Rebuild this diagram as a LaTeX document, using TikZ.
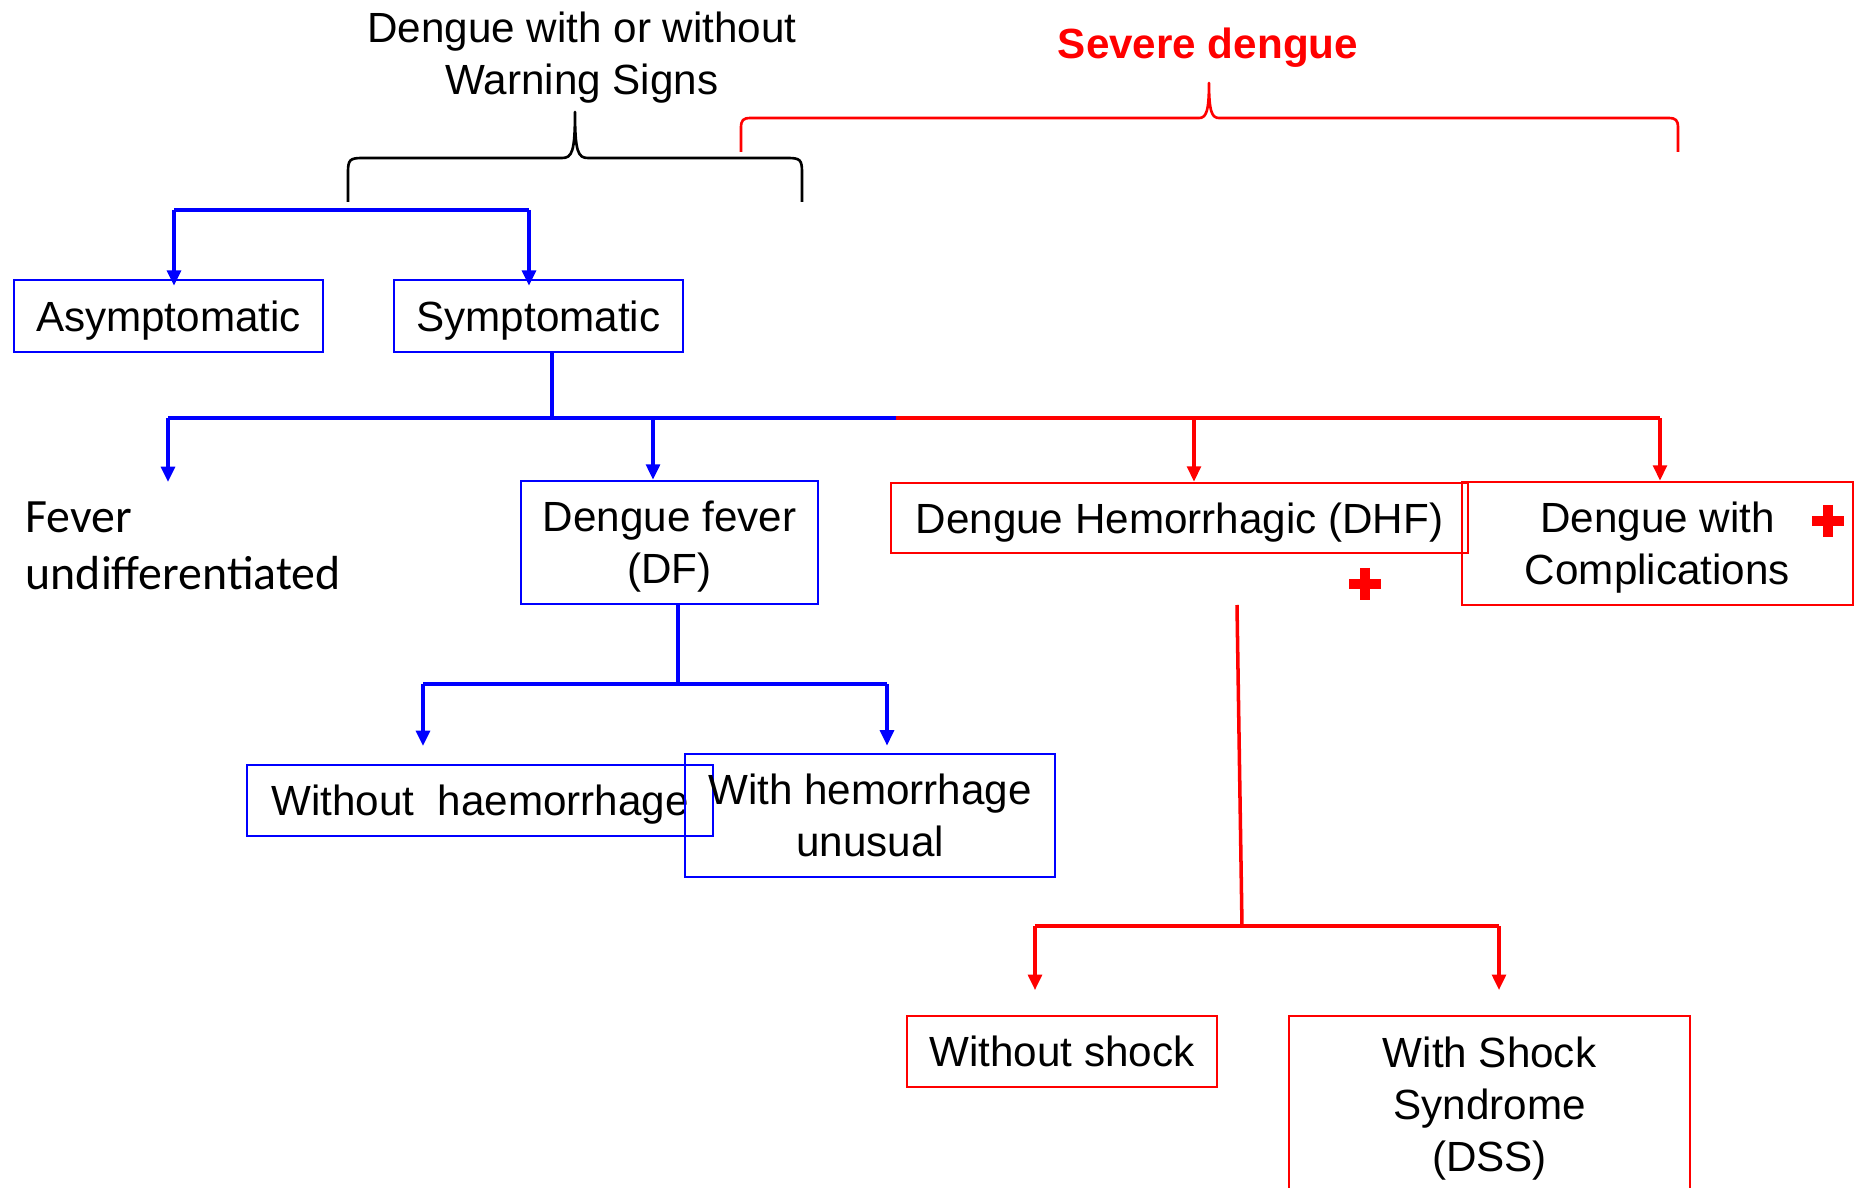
\documentclass[tikz,border=0pt]{standalone}
\usepackage{fontspec}
\setmainfont{Liberation Sans}
\newfontfamily\calibrifont{Carlito}
\usetikzlibrary{arrows.meta, positioning, calc}

\begin{document}
\begin{tikzpicture}[
  x=0.01cm, y=-0.01cm,
  box/.style = {draw, line width=0.7pt, inner sep=0pt, align=center, text depth=0pt},
  bluebox/.style = {box, draw=blue},
  redbox/.style = {box, draw=red},
  bluelink/.style = {blue, line width=1.2pt},
  redlink/.style = {red, line width=1pt},
  headed/.style = {-{Triangle[length=4.4pt,width=3.9pt]}},
  brace/.style = {line width=0.75pt, line join=round},
  plusmark/.style = {red, line width=2.8pt},
  every node/.style = {font=\fontsize{12}{14.8}\selectfont}
]
\useasboundingbox (0,0) rectangle (1856,1188);

% Headings and braces
\node[align=center] (mildtitle) at (582,58) {Dengue with or without\\Warning Signs};
\node[red, font=\bfseries\fontsize{12}{14.8}\selectfont] (severe) at (1208,48) {Severe dengue};

\draw[brace] (348,202) -- (348,172) .. controls (348,160) and (350,158) .. (362,158)
  -- (562,158) .. controls (572,158) and (575,152) .. (575,112)
  .. controls (575,152) and (578,158) .. (588,158) -- (788,158)
  .. controls (800,158) and (802,160) .. (802,172) -- (802,202);
\draw[brace, red] (741,152) -- (741,128) .. controls (741,120) and (743,118) .. (751,118)
  -- (1199,118) .. controls (1206,118) and (1209,112) .. (1209,83)
  .. controls (1209,112) and (1212,118) .. (1219,118) -- (1668,118)
  .. controls (1676,118) and (1678,120) .. (1678,128) -- (1678,152);

% First level
\node[bluebox, minimum width=3.09cm, minimum height=0.72cm] (asym) at (168.5,316) {Asymptomatic};
\node[bluebox, minimum width=2.89cm, minimum height=0.72cm] (sym) at (538.5,316) {Symptomatic};

\coordinate (topL) at (174,210);
\coordinate (topR) at (529,210);
\draw[bluelink] (topL) -- (topR);
\draw[bluelink, headed] (topL) -- ([yshift=-2pt]topL |- asym.north);
\draw[bluelink, headed] (topR) -- ([yshift=-2pt]topR |- sym.north);

% Second level
\node[anchor=west, inner sep=0pt, align=left, font=\calibrifont\fontsize{13.6}{16.2}\selectfont]
  (fever) at (25,546) {Fever\\undifferentiated};
\node[bluebox, minimum width=2.97cm, minimum height=1.23cm] (df) at (669.5,542.5) {Dengue fever\\(DF)};
\node[redbox, minimum width=5.77cm, minimum height=0.70cm] (dhf) at (1179.5,518) {Dengue Hemorrhagic (DHF)};
\node[redbox, minimum width=3.91cm, minimum height=1.23cm] (comp) at (1657.5,543.5) {Dengue with\\Complications};

\coordinate (symbar) at (552,418);
\coordinate (barL) at (168,418);
\coordinate (barS) at (896,418);
\coordinate (barR) at (1660,418);
\coordinate (dfin) at (653,418);
\coordinate (dhfin) at (1194,418);
\coordinate (feverin) at (168,482);
\draw[bluelink] (sym.south -| symbar) -- (symbar);
\draw[bluelink] (barL) -- (barS);
\draw[redlink] (barS) -- (barR);
\draw[bluelink, headed] (barL) -- (feverin);
\draw[bluelink, headed] (dfin) -- (dfin |- df.north);
\draw[redlink, headed] (dhfin) -- (dhfin |- dhf.north);
\draw[redlink, headed] (barR) -- (barR |- comp.north);

\draw[plusmark] (1812,521) -- (1844,521) (1828,505) -- (1828,537);
\draw[plusmark] (1349,584) -- (1381,584) (1365,568) -- (1365,600);

% Third level, dengue fever
\node[bluebox, minimum width=4.66cm, minimum height=0.71cm] (nohaem) at (480,800.5) {Without\ \ haemorrhage};
\node[bluebox, minimum width=3.70cm, minimum height=1.23cm] (haem) at (870,815.5) {With hemorrhage\\unusual};

\coordinate (dfbar) at (678,684);
\coordinate (dfL) at (423,684);
\coordinate (dfR) at (887,684);
\draw[bluelink] (df.south -| dfbar) -- (dfbar);
\draw[bluelink] (dfL) -- (dfR);
\draw[bluelink, headed, shorten >=5pt] (dfL) -- (dfL |- nohaem.north);
\draw[bluelink, headed, shorten >=2pt] (dfR) -- (dfR |- haem.north);

% Third level, DHF
\node[redbox, minimum width=3.10cm, minimum height=0.71cm] (noshock) at (1062,1051.5) {Without shock};
\node[redbox, minimum width=4.01cm, minimum height=1.76cm] (dss) at (1489.5,1104) {With Shock\\Syndrome\\(DSS)};

\coordinate (dhftop) at (1237,605);
\coordinate (dhfbar) at (1242,926);
\coordinate (shL) at (1035,926);
\coordinate (shR) at (1499,926);
\draw[redlink] (dhftop) -- (dhfbar);
\draw[redlink] (shL) -- (shR);
\draw[redlink, headed, shorten >=7pt] (shL) -- (shL |- noshock.north);
\draw[redlink, headed, shorten >=7pt] (shR) -- (shR |- dss.north);

\end{tikzpicture}
\end{document}
